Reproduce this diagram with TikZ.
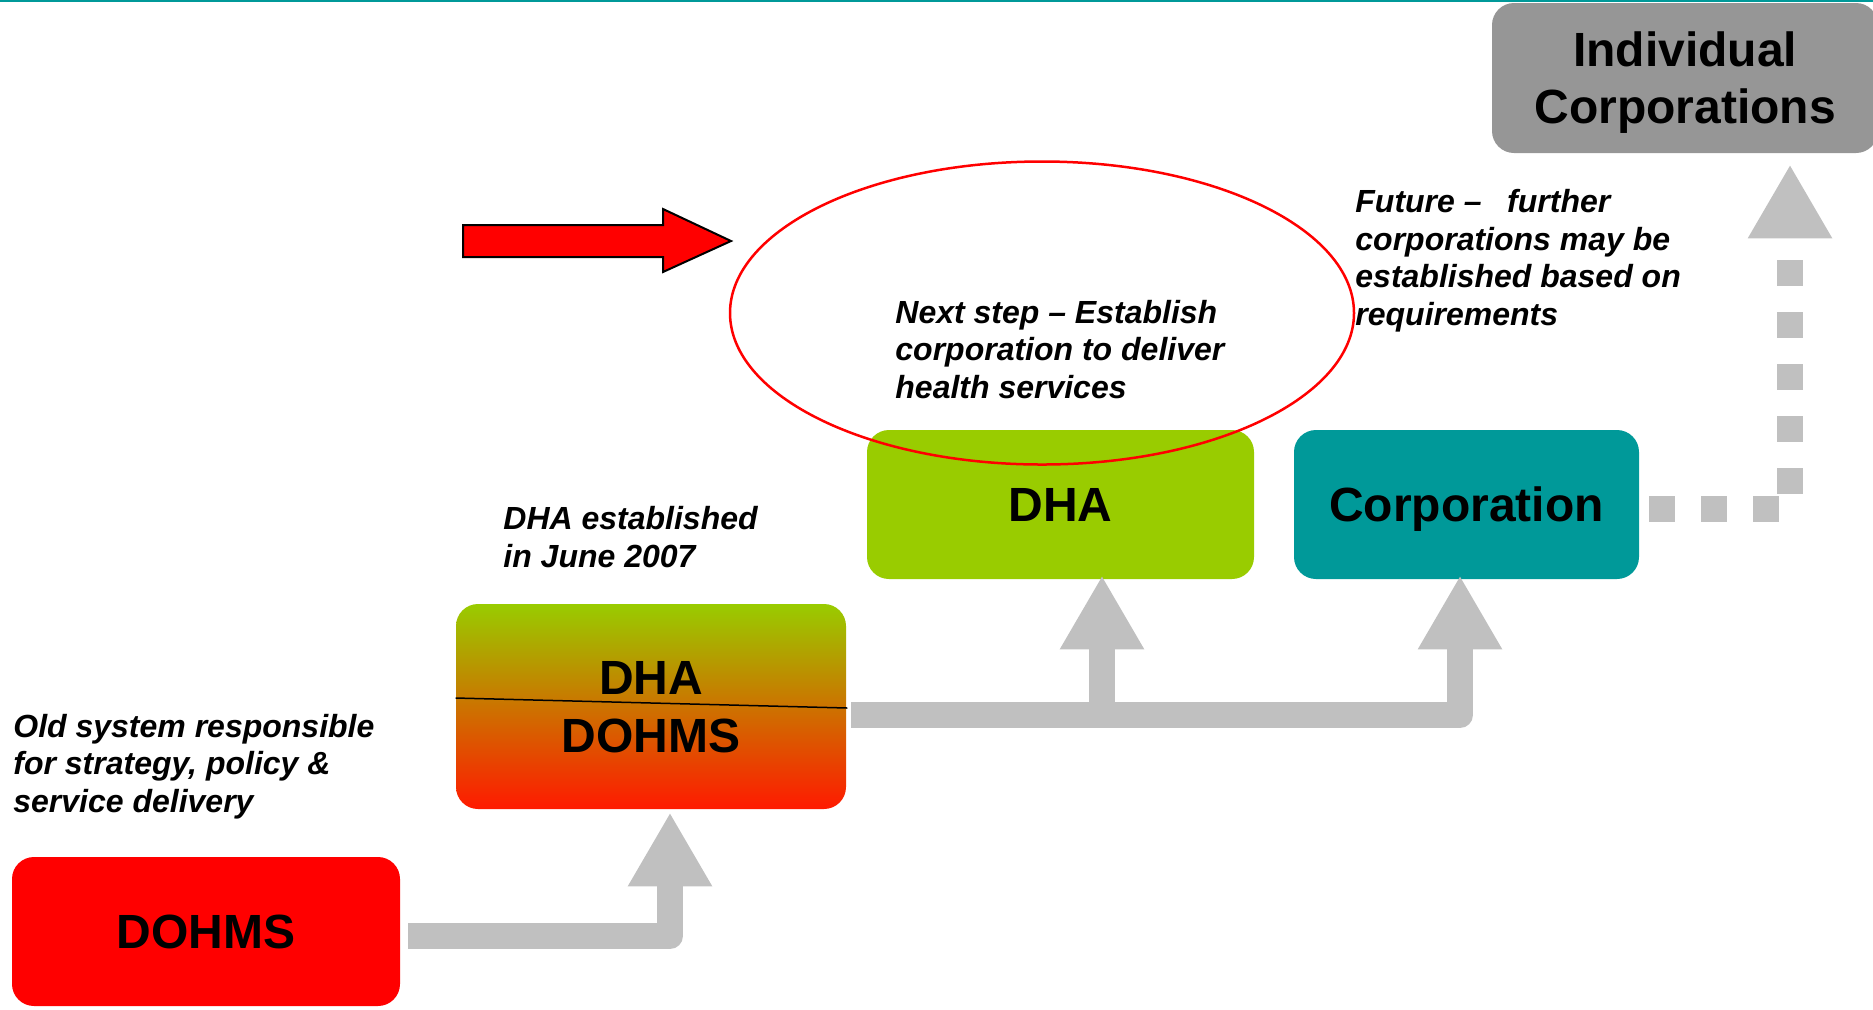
\documentclass[tikz,border=0pt]{standalone}
\usepackage{fontspec}
\setmainfont{Liberation Sans}
\usetikzlibrary{arrows.meta,shapes.geometric}
\definecolor{dhagreen}{HTML}{99CC00}
\definecolor{corpteal}{HTML}{009999}
\definecolor{indivgrey}{HTML}{969696}
\definecolor{flowgrey}{HTML}{C0C0C0}
\definecolor{dohmsred}{HTML}{FF0000}
\definecolor{midorange}{HTML}{D89400}
\definecolor{lowred}{HTML}{FF1A00}
\begin{document}
\begin{tikzpicture}[x=0.5pt,y=-0.5pt,
    stage/.style={rounded corners=11pt,inner sep=0pt,align=center,text=black,text depth=0pt,font=\bfseries\fontsize{24}{29}\selectfont},
    note/.style={anchor=base west,inner sep=0pt,align=left,font=\bfseries\itshape\fontsize{16}{18.75}\selectfont},
    flow/.style={draw=flowgrey,line width=13pt,line join=round,-{Triangle[width=39.5pt,length=37pt]}},
    nextflow/.style={flow,line join=miter,dash pattern=on 13pt off 13pt}]
    \useasboundingbox (0,0) rectangle (1873,1009);
    \draw[corpteal,line width=1pt] (0,1) -- (1873,1);
    \node[stage,fill=dohmsred,minimum width=194pt,minimum height=74.5pt] (dohms) at (206,931.5) {DOHMS};
    \node[stage,top color=dhagreen,middle color=midorange,bottom color=lowred,minimum width=195pt,minimum height=102.5pt] (dd) at (651,706.5) {DHA\\DOHMS};
    \node[stage,fill=dhagreen,minimum width=193.5pt,minimum height=74.5pt] (dha) at (1060.5,504.5) {DHA};
    \node[stage,fill=corpteal,minimum width=172.5pt,minimum height=74.5pt] (corp) at (1466.5,504.5) {Corporation};
    \node[stage,fill=indivgrey,minimum width=193pt,minimum height=75pt,font=\bfseries\fontsize{24}{28.5}\selectfont] (indiv) at (1685,78) {Individual\\Corporations};
    \draw[line width=0.75pt] ([yshift=4.25pt]dd.west) -- ([xshift=0.5pt,yshift=-0.75pt]dd.east);
    \draw[flow] ([xshift=4pt,yshift=-2.25pt]dohms.east) -| ([xshift=9.5pt,yshift=-1.5pt]dd.south);
    \coordinate (fork) at (1102,715);
    \draw[flow] ([xshift=2.5pt,yshift=-4.25pt]dd.east) -| ([xshift=-3.25pt,yshift=2pt]corp.south);
    \draw[flow] (fork) -- ([yshift=2pt]fork |- dha.south);
    \draw[nextflow] ([xshift=5pt,yshift=-2.25pt]corp.east) -| ([xshift=52.5pt,yshift=-5.5pt]indiv.south);
    \node[ellipse,draw=red,line width=1.25pt,inner sep=0pt,minimum width=312pt,minimum height=151.5pt] (ring) at (1042,313) {};
    \node[note] (nexttxt) at (895,398) {Next step – Establish\\corporation to deliver\\health services};
    \node[note] (estdtxt) at (503,567) {DHA established\\in June 2007};
    \node[note] (oldtxt) at (13,812) {Old system responsible\\for strategy, policy \&\\service delivery};
    \node[note] (futuretxt) at (1355,325) {Future –\hspace{0.8em}further\\corporations may be\\established based on\\requirements};
    \draw[fill=red,line width=1pt] (463,225) -- (663,225) -- (663,209) -- (731,241) -- (663,272) -- (663,257) -- (463,257) -- cycle;
\end{tikzpicture}
\end{document}
